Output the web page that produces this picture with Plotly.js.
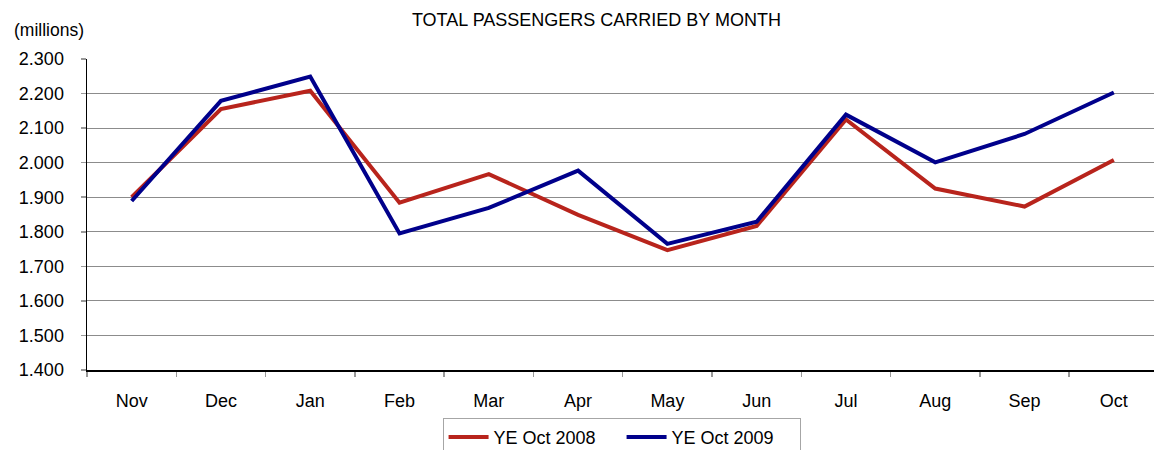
<!DOCTYPE html>
<html>
<head>
<meta charset="utf-8">
<script src="https://cdn.plot.ly/plotly-3.0.1.min.js"></script>
<style>html,body{margin:0;padding:0;background:#fff;}#chart{width:1154px;height:450px;}</style>
</head>
<body>
<div id="chart"></div>
<script>
var months = ["Nov","Dec","Jan","Feb","Mar","Apr","May","Jun","Jul","Aug","Sep","Oct"];
var ye2008 = [1.900, 2.155, 2.208, 1.884, 1.967, 1.849, 1.747, 1.817, 2.125, 1.925, 1.873, 2.008];
var ye2009 = [1.889, 2.179, 2.249, 1.795, 1.869, 1.977, 1.765, 1.829, 2.139, 2.001, 2.083, 2.203];
var yTicks = [1.4,1.5,1.6,1.7,1.8,1.9,2.0,2.1,2.2,2.3];
var yTickText = ["1.400","1.500","1.600","1.700","1.800","1.900","2.000","2.100","2.200","2.300"];

var FONT = "Liberation Sans, Arial, sans-serif";
var traces = [
  {x: months, y: ye2008, type: "scatter", mode: "lines", name: "YE Oct 2008",
   line: {color: "#B8241C", width: 4}},
  {x: months, y: ye2009, type: "scatter", mode: "lines", name: "YE Oct 2009",
   line: {color: "#00008B", width: 4}}
];
var layout = {
  width: 1154, height: 450,
  margin: {l: 87, r: 0, t: 59, b: 80, autoexpand: false},
  paper_bgcolor: "#fff", plot_bgcolor: "#fff",
  font: {family: FONT, size: 18, color: "#000"},
  title: {text: "TOTAL PASSENGERS CARRIED BY MONTH", font: {family: FONT, size: 18, color: "#000"},
          xref: "paper", x: 0.4775, xanchor: "center", yref: "container", y: 0.956, yanchor: "middle"},
  xaxis: {type: "category", range: [-0.5, 11.45], showgrid: false, zeroline: false, automargin: false,
          showline: true, linecolor: "#000", linewidth: 1.5,
          ticks: "outside", tickson: "boundaries", ticklen: 5, tickcolor: "#999", tickwidth: 1.5,
          tickfont: {family: FONT, size: 18, color: "#000"}, ticklabelstandoff: 14, fixedrange: true},
  yaxis: {range: [1.4, 2.3], tickvals: yTicks, ticktext: yTickText, showgrid: true, automargin: false,
          gridcolor: "#8c8c8c", gridwidth: 1, zeroline: false,
          showline: true, linecolor: "#000", linewidth: 1.5,
          ticks: "outside", ticklen: 5, tickcolor: "#999", tickwidth: 1.5,
          tickfont: {family: FONT, size: 18, color: "#000"}, ticklabelstandoff: 13, fixedrange: true},
  showlegend: true,
  legend: {orientation: "h", xref: "paper", x: 0.501, xanchor: "center", yref: "paper", y: -0.154, yanchor: "top",
           bordercolor: "#a6a6a6", borderwidth: 1, bgcolor: "#fff",
           font: {family: FONT, size: 18, color: "#000"}, itemwidth: 40,
           entrywidth: 123, entrywidthmode: "pixels"},
  annotations: [{text: "(millions)", xref: "paper", yref: "paper", x: -0.0703, y: 1.093,
                 xanchor: "left", yanchor: "middle", showarrow: false,
                 font: {family: FONT, size: 17.5, color: "#000"}}]
};
Plotly.newPlot("chart", traces, layout, {displayModeBar: false, staticPlot: true});
</script>
</body>
</html>
